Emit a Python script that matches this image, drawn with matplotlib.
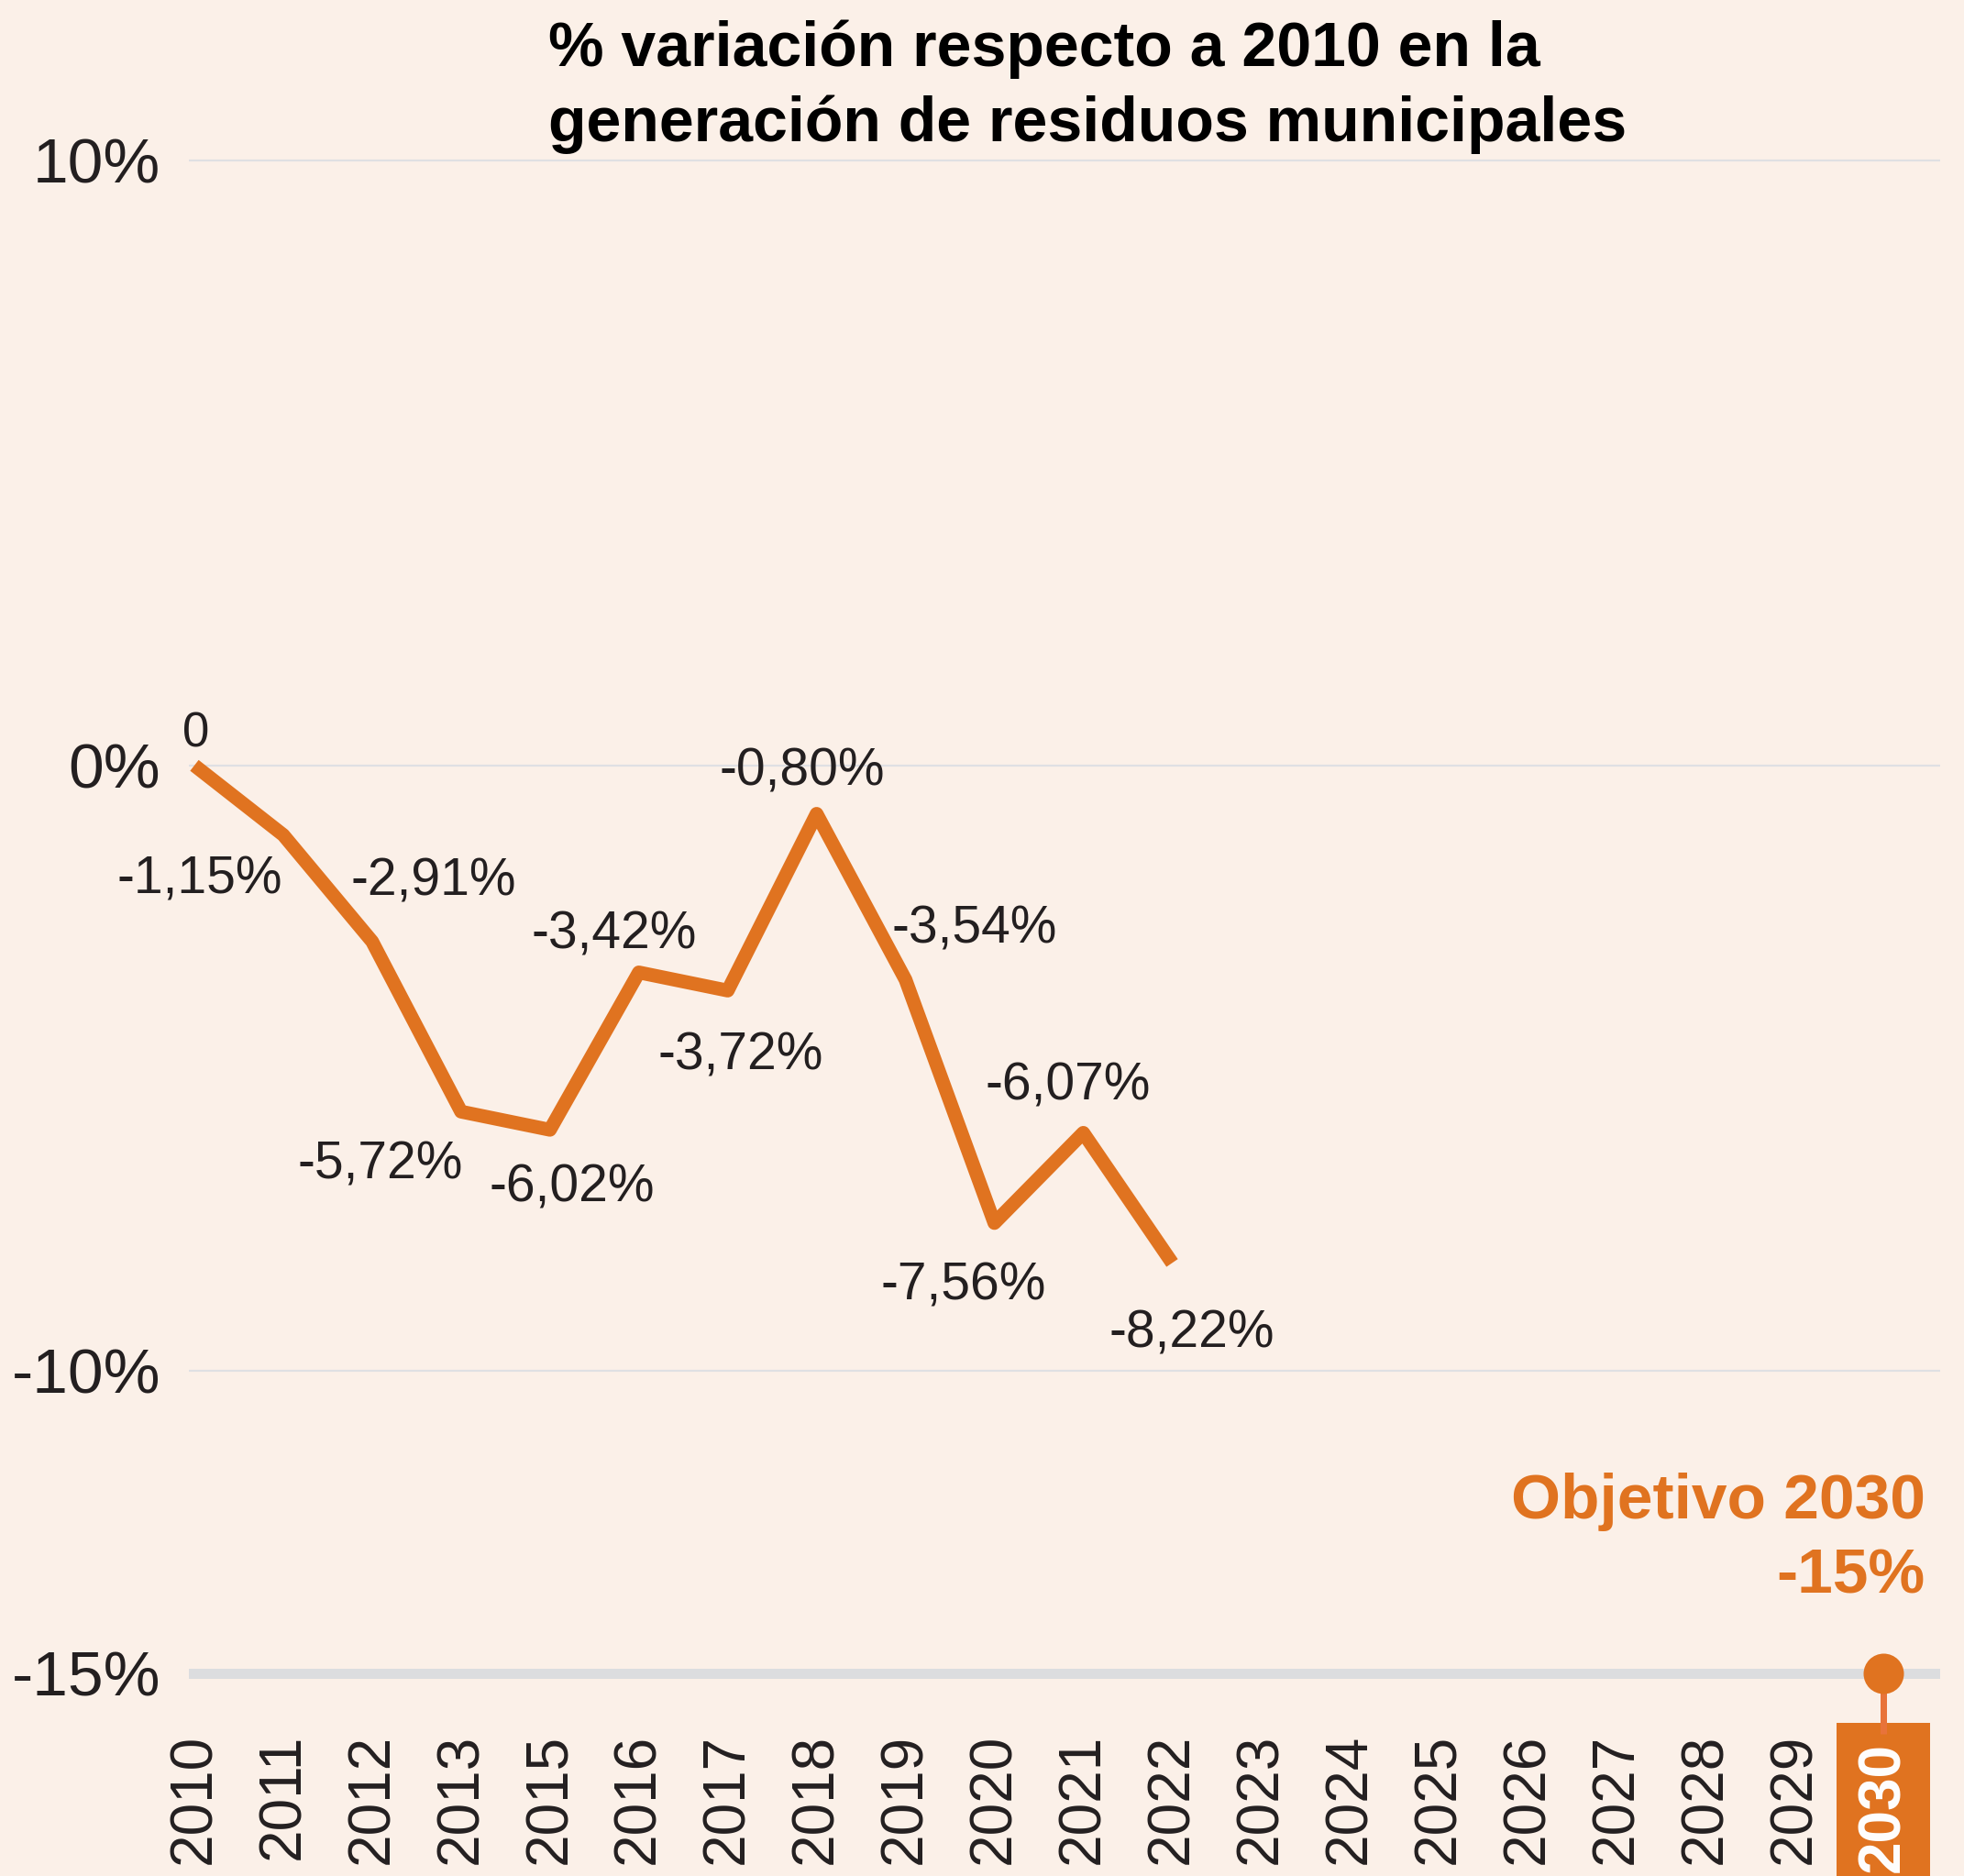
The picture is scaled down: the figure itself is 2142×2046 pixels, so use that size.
import matplotlib
matplotlib.use("Agg")
import matplotlib.pyplot as plt
from matplotlib.transforms import ScaledTranslation

# ---------------- data ----------------
years = ['2010', '2011', '2012', '2013', '2015', '2016', '2017', '2018', '2019',
         '2020', '2021', '2022', '2023', '2024', '2025', '2026', '2027', '2028',
         '2029', '2030']
values = [0, -1.15, -2.91, -5.72, -6.02, -3.42, -3.72, -0.80, -3.54, -7.56,
          -6.07, -8.22]
value_labels = ['0', '-1,15%', '-2,91%', '-5,72%', '-6,02%', '-3,42%', '-3,72%',
                '-0,80%', '-3,54%', '-7,56%', '-6,07%', '-8,22%']
target_year = '2030'
target_value = -15
target_text = ['Objetivo 2030', '-15%']
y_ticks = [10, 0, -10, -15]
y_tick_labels = ['10%', '0%', '-10%', '-15%']
title_lines = ['% variación respecto a 2010 en la',
               'generación de residuos municipales']

# ---------------- style ----------------
BG = '#FBF0E8'
ORANGE = '#E07320'
STEM = '#E8733A'
TEXT = '#231F20'
GRID = '#DFE0E3'
W, H, DPI = 2142, 2046, 100
PX = 72 / DPI  # px -> pt

plt.rcParams['font.family'] = ['Liberation Sans', 'DejaVu Sans']

fig = plt.figure(figsize=(W / DPI, H / DPI), dpi=DPI, facecolor=BG)
ax_l, ax_r, ax_t, ax_b = 206, 2116, 135, 1891
ax = fig.add_axes([ax_l / W, 1 - ax_b / H, (ax_r - ax_l) / W, (ax_b - ax_t) / H])
ax.set_facecolor(BG)

x = list(range(len(years)))
ax.set_xlim(-0.062, 19.64)
ax.set_ylim(-16.0, 10.6)

# grid lines
for t in y_ticks:
    if t == target_value:
        ax.axhline(t, color='#DCDDDF', lw=11 * PX, zorder=1)
    else:
        ax.axhline(t, color=GRID, lw=2.2 * PX, zorder=1)

# main line
ax.plot(x[:len(values)], values, color=ORANGE, lw=15 * PX,
        solid_joinstyle='round', solid_capstyle='butt', zorder=3)

# value labels (offsets in px: dx right, dy down, relative to baseline)
offsets = [(2, -20), (-91, 64), (67, -50), (-88, 73), (24, 78), (-27, -26),
           (14, 86), (-16, -31), (75, -40), (-34, 84), (-17, -36), (21, 92)]
for i, (v, lab, (dx, dy)) in enumerate(zip(values, value_labels, offsets)):
    ax.annotate(lab, (x[i], v), xytext=(dx * PX, -dy * PX),
                textcoords='offset points', ha='center', va='baseline',
                fontsize=38 if lab == '0' else 41, color=TEXT, zorder=4)

# target marker and stem
tx = years.index(target_year)
ax.plot([tx, tx], [target_value, -16.0], color=STEM, lw=7 * PX,
        solid_capstyle='butt', zorder=2, clip_on=False)
ax.plot([tx], [target_value], 'o', color=ORANGE, markersize=44 * PX,
        markeredgewidth=0, zorder=4, clip_on=False)

# target text
ax.annotate(target_text[0], (tx, target_value), xytext=(46 * PX, 169 * PX),
            textcoords='offset points', ha='right', va='baseline',
            fontsize=50, fontweight='bold', color=ORANGE)
ax.annotate(target_text[1], (tx, target_value), xytext=(46 * PX, 87 * PX),
            textcoords='offset points', ha='right', va='baseline',
            fontsize=50, fontweight='bold', color=ORANGE)

# axes styling
for s in ax.spines.values():
    s.set_visible(False)
ax.set_yticks(y_ticks)
ax.set_yticklabels(y_tick_labels)
ax.tick_params(axis='y', length=0, pad=31 * PX, labelsize=50, labelcolor=TEXT)
ax.set_xticks(x)
ax.set_xticklabels(years, rotation=90)
ax.tick_params(axis='x', length=0, pad=0, labelsize=46, labelcolor=TEXT)

lab30 = ax.get_xticklabels()[tx]
lab30.set_color('white')
lab30.set_fontweight('bold')
lab30.set_bbox(dict(boxstyle='square,pad=0.33', facecolor=ORANGE, edgecolor='none'))
lab30.set_transform(lab30.get_transform() +
                    ScaledTranslation(0, -9 / DPI, fig.dpi_scale_trans))

# title
fig.text(598 / W, 1 - 72 / H, title_lines[0], ha='left', va='baseline',
         fontsize=49, fontweight='bold', color='black')
fig.text(598 / W, 1 - 154 / H, title_lines[1], ha='left', va='baseline',
         fontsize=49, fontweight='bold', color='black')

fig.savefig('out.png', dpi=DPI, facecolor=BG)
